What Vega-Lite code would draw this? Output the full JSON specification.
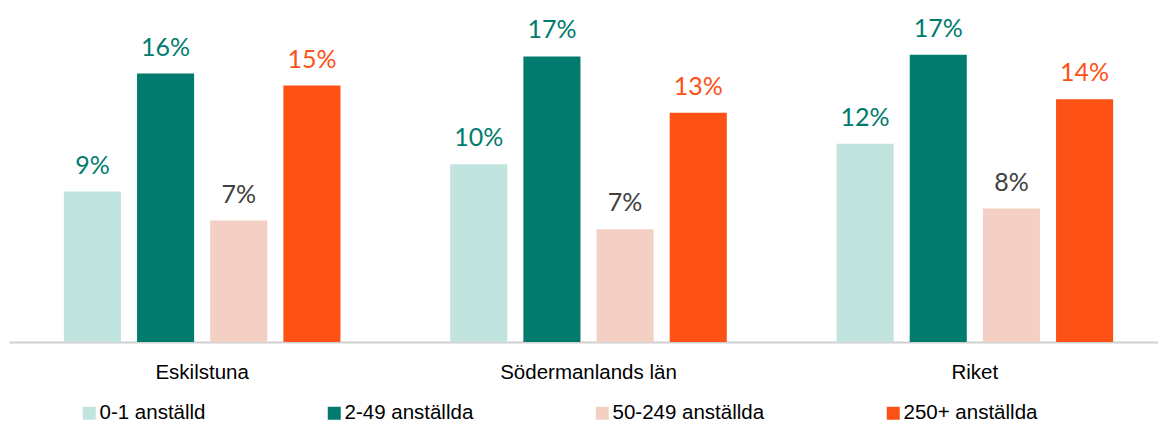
{
  "$schema": "https://vega.github.io/schema/vega-lite/v6.json",
  "autosize": "none",
  "width": 1159,
  "height": 342,
  "padding": {"left": 9, "top": 0, "right": 0, "bottom": 81},
  "background": "white",
  "data": {
    "values": [
      {"omrade": "Eskilstuna", "storlek": "0-1 anställd", "andel": 0.088},
      {"omrade": "Eskilstuna", "storlek": "2-49 anställda", "andel": 0.157},
      {"omrade": "Eskilstuna", "storlek": "50-249 anställda", "andel": 0.071},
      {"omrade": "Eskilstuna", "storlek": "250+ anställda", "andel": 0.150},
      {"omrade": "Södermanlands län", "storlek": "0-1 anställd", "andel": 0.104},
      {"omrade": "Södermanlands län", "storlek": "2-49 anställda", "andel": 0.167},
      {"omrade": "Södermanlands län", "storlek": "50-249 anställda", "andel": 0.066},
      {"omrade": "Södermanlands län", "storlek": "250+ anställda", "andel": 0.134},
      {"omrade": "Riket", "storlek": "0-1 anställd", "andel": 0.116},
      {"omrade": "Riket", "storlek": "2-49 anställda", "andel": 0.168},
      {"omrade": "Riket", "storlek": "50-249 anställda", "andel": 0.078},
      {"omrade": "Riket", "storlek": "250+ anställda", "andel": 0.142}
    ]
  },
  "encoding": {
    "x": {
      "field": "omrade", "type": "nominal",
      "sort": ["Eskilstuna", "Södermanlands län", "Riket"],
      "scale": {"paddingInner": 0, "paddingOuter": 0},
      "axis": {
        "title": null, "labelAngle": 0, "ticks": false,
        "domainColor": "#D0D0D0", "domainWidth": 2,
        "labelFont": "Liberation Sans", "labelFontSize": 20.5,
        "labelColor": "#000000", "labelPadding": 20
      }
    },
    "xOffset": {
      "field": "storlek", "type": "nominal",
      "sort": ["0-1 anställd", "2-49 anställda", "50-249 anställda", "250+ anställda"],
      "scale": {"paddingInner": 0.22, "paddingOuter": 0.75}
    },
    "y": {
      "field": "andel", "type": "quantitative",
      "scale": {"domain": [0, 0.2], "nice": false},
      "axis": null
    }
  },
  "layer": [
    {
      "mark": {"type": "bar"},
      "encoding": {
        "color": {
          "field": "storlek", "type": "nominal",
          "sort": ["0-1 anställd", "2-49 anställda", "50-249 anställda", "250+ anställda"],
          "scale": {
            "domain": ["0-1 anställd", "2-49 anställda", "50-249 anställda", "250+ anställda"],
            "range": ["#C2E4DF", "#007B6E", "#F4D0C4", "#FD5116"]
          },
          "legend": {
            "title": null,
            "orient": "none",
            "legendX": 70,
            "legendY": 403,
            "direction": "horizontal",
            "columns": 4,
            "gridAlign": "none",
            "columnPadding": 118,
            "symbolType": "square",
            "symbolSize": 169,
            "symbolStrokeWidth": 0,
            "labelOffset": 0,
            "labelFont": "Liberation Sans",
            "labelFontSize": 20.5,
            "labelColor": "#000000",
            "labelLimit": 300
          }
        }
      }
    },
    {
      "mark": {"type": "text", "baseline": "alphabetic", "dy": -18, "font": "Lato", "fontSize": 25},
      "encoding": {
        "text": {"field": "andel", "type": "quantitative", "format": ".0%"},
        "color": {
          "field": "storlek", "type": "nominal",
          "scale": {
            "domain": ["0-1 anställd", "2-49 anställda", "50-249 anställda", "250+ anställda"],
            "range": ["#007B6E", "#007B6E", "#404040", "#FD5116"]
          },
          "legend": null
        }
      }
    }
  ],
  "resolve": {"scale": {"color": "independent"}},
  "config": {"view": {"stroke": null}}
}
